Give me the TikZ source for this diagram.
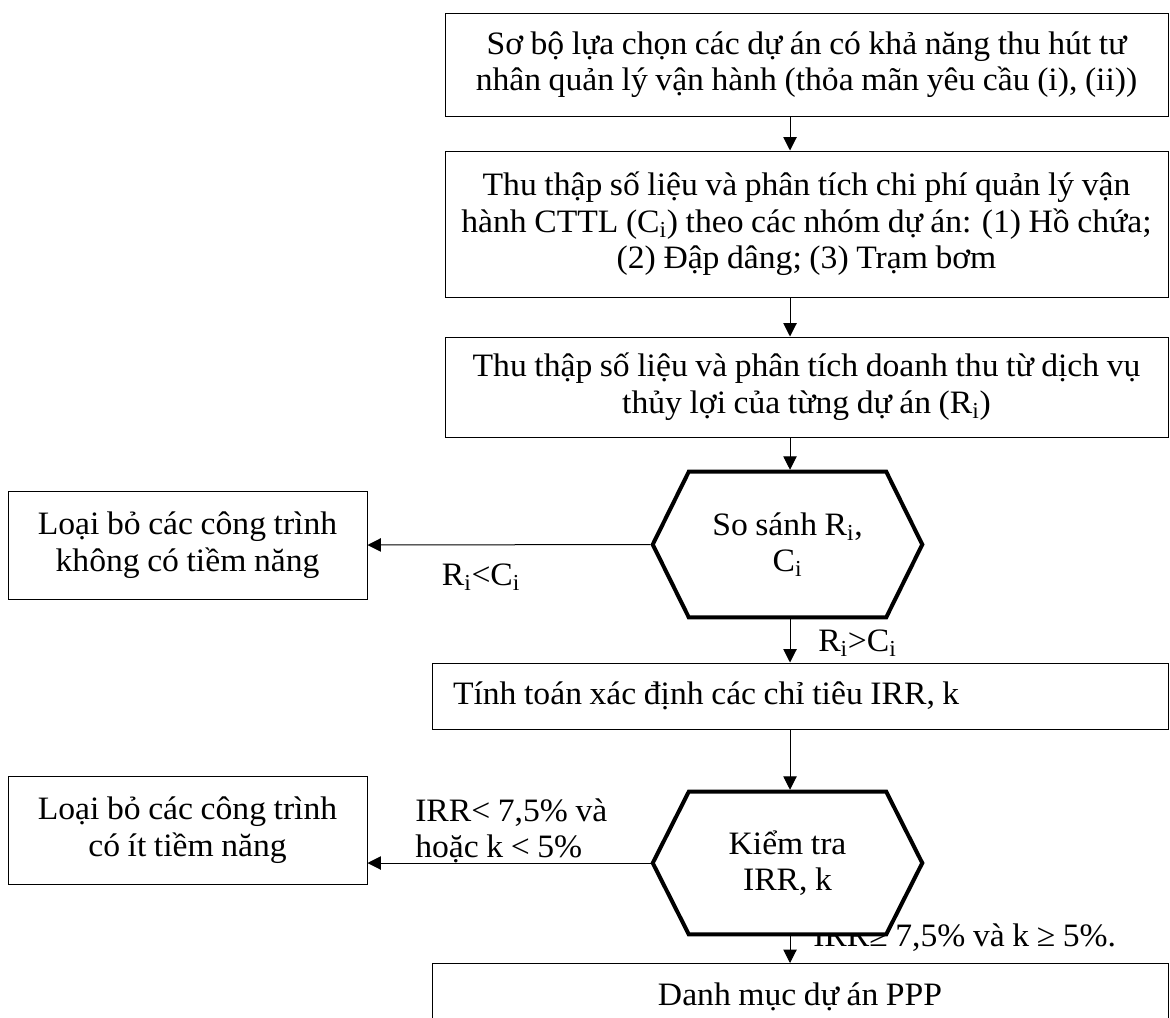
\documentclass[tikz,border=0pt]{standalone}
\usepackage{fontspec}
\setmainfont[FakeStretch=1.03,WordSpace=0.9]{Liberation Serif}
\usetikzlibrary{arrows.meta,backgrounds}
\newcommand{\pxu}{0.75pt}
\newcommand{\flowfont}{\fontsize{24.5pt}{27.5pt}\selectfont}
% flat-topped hexagon drawn around a named node
\newcommand{\hexaround}[2]{%
  \path[hexline] ([xshift=#2]#1.north west) -- ([xshift=-#2]#1.north east)
    -- (#1.east) -- ([xshift=-#2]#1.south east) -- ([xshift=#2]#1.south west)
    -- (#1.west) -- cycle;}

\begin{document}
\begin{tikzpicture}[x=0.75pt,y=-0.75pt,
  every node/.style={font=\flowfont, inner sep=0pt},
  stepbox/.style={draw, line width=0.75pt, align=center, minimum width=723*\pxu},
  widebox/.style={draw, line width=0.75pt, minimum width=736*\pxu},
  sidebox/.style={draw, line width=0.75pt, align=center,
    minimum width=359*\pxu, minimum height=108*\pxu},
  hexnode/.style={align=center, minimum width=269*\pxu},
  hexline/.style={draw, fill=white, line width=3pt, line join=miter},
  arr/.style={line width=0.75pt, -{Triangle[length=10pt,width=10pt]}},
  lbl/.style={align=left}]

\useasboundingbox (0,0) rectangle (1170,1017);
\begin{pgfonlayer}{background}
  \fill[white] (0,0) rectangle (1170,1017);
\end{pgfonlayer}

\coordinate (ax) at (790,0);

% main column
\node[stepbox, minimum height=103*\pxu] (b1) at (806.5,64.5)
  {Sơ bộ lựa chọn các dự án có khả năng thu hút tư\\
   nhân quản lý vận hành (thỏa mãn yêu cầu (i), (ii))};
\node[stepbox, minimum height=146*\pxu] (b2) at (806.5,224)
  {Thu thập số liệu và phân tích chi phí quản lý vận\\
   hành CTTL (C\textsubscript{i}) theo các nhóm dự án: (1) Hồ chứa;\\
   (2) Đập dâng; (3) Trạm bơm};
\node[stepbox, minimum height=100*\pxu] (b3) at (806.5,387)
  {Thu thập số liệu và phân tích doanh thu từ dịch vụ\\
   thủy lợi của từng dự án (R\textsubscript{i})};

\node[hexnode, minimum height=145*\pxu] (h1) at (787.5,544.5)
  {So sánh R\textsubscript{i},\\C\textsubscript{i}};
\node[sidebox] (l1) at (187.5,545)
  {Loại bỏ các công trình\\không có tiềm năng};

\node[widebox, minimum height=66*\pxu, text width=694*\pxu, inner xsep=21*\pxu,
  align=flush left] (b5) at (800,696) {Tính toán xác định các chỉ tiêu IRR, k};

\node[hexnode, minimum height=142*\pxu] (h2) at (787.5,863)
  {Kiểm tra\\IRR, k};
\node[sidebox] (l2) at (187.5,830)
  {Loại bỏ các công trình\\có ít tiềm năng};

% last box runs past the lower edge of the page
\node[widebox, minimum height=74*\pxu, text height=20pt, text depth=13pt,
  anchor=north] (b6) at (800,963) {Danh mục dự án PPP};

% decision labels
\node (lt1) at (481,577) {R\textsubscript{i}<C\textsubscript{i}};
\node[anchor=west] (gt1) at (818,643) {R\textsubscript{i}>C\textsubscript{i}};
\node[lbl, anchor=west] (lt2) at (415,831) {IRR< 7,5\% và\\hoặc k < 5\%};

\begin{pgfonlayer}{background}
  \node[anchor=west] (ge2) at (813,938) {IRR≥ 7,5\% và k ≥ 5\%.};
  \hexaround{h1}{36*\pxu}
  \hexaround{h2}{36*\pxu}
\end{pgfonlayer}

% connectors
\draw[arr] (b1.south -| ax) -- (b2.north -| ax);
\draw[arr] (b2.south -| ax) -- (b3.north -| ax);
\draw[arr, shorten >=1.5pt] (b3.south -| ax) -- (h1.north -| ax);
\draw[arr, shorten <=1.5pt] (h1.west) -- (l1.east);
\draw[arr, shorten <=1.5pt] (h1.south -| ax) -- (b5.north -| ax);
\draw[arr, shorten >=1.5pt] (b5.south -| ax) -- (h2.north -| ax);
\draw[arr, shorten <=1.5pt] (h2.west) -- (h2.west -| l2.east);
\draw[arr, shorten <=1.5pt] (h2.south -| ax) -- (b6.north -| ax);
\end{tikzpicture}
\end{document}
